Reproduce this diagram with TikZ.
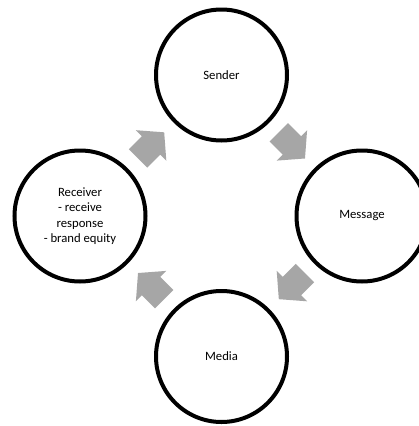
\documentclass[tikz,border=0pt]{standalone}
\usepackage{fontspec}
\setmainfont{Carlito}
\definecolor{arrowgray}{RGB}{166,166,166}
\begin{document}
\begin{tikzpicture}[x=1pt,y=-1pt,
  cyclenode/.style={circle,draw=black,line width=4pt,fill=white,minimum size=131pt,inner sep=0pt,
    align=center,font=\fontsize{12.7pt}{15.5pt}\selectfont},
  cyclearrow/.pic={\fill[arrowgray] (-18.5,-13) -- (0,-13) -- (0,-21.5) -- (18.5,0) -- (0,21.5) -- (0,13) -- (-18.5,13) -- cycle;}]
\fill[white] (0,0) rectangle (419,426);
\useasboundingbox (0,0) rectangle (419,426);
\clip (0,0) rectangle (419,426);
\node[cyclenode] (sender) at (221.5,75) {Sender};
\node[cyclenode] (message) at (362,216) {Message};
\node[cyclenode] (media) at (221.5,356.5) {Media};
\node[cyclenode] (receiver) at (80,216) {Receiver\\- receive\\response\\- brand equity};
\pic[rotate=45] (a1) at (151.1,145.4) {cyclearrow};
\pic[rotate=-45] (a2) at (291.9,145.4) {cyclearrow};
\pic[rotate=-135] (a3) at (291.9,286.1) {cyclearrow};
\pic[rotate=135] (a4) at (151.1,286.1) {cyclearrow};
\end{tikzpicture}
\end{document}
